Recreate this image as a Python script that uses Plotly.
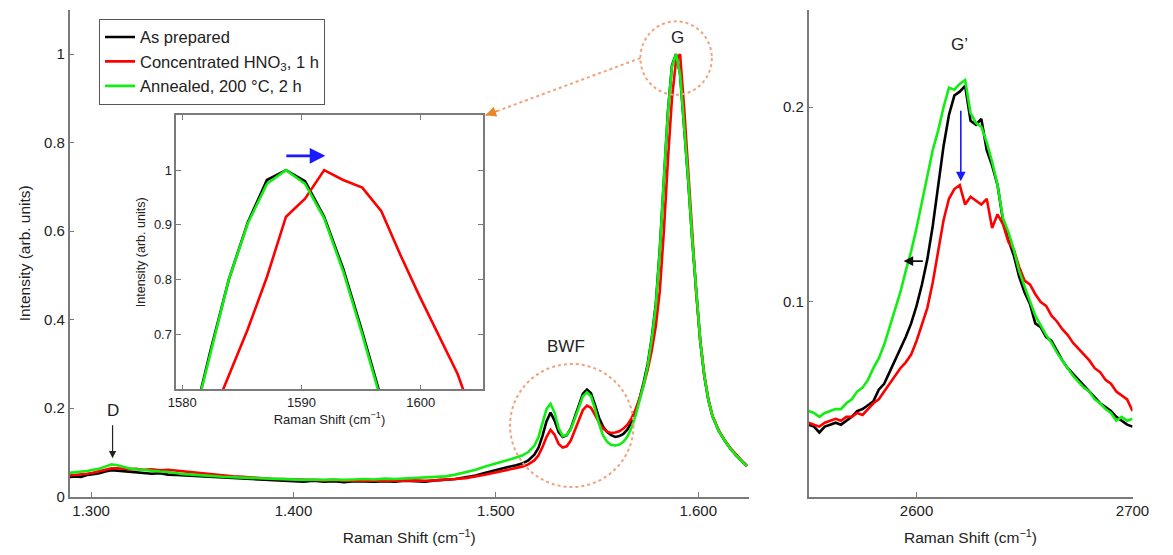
import plotly.graph_objects as go

# ---------------- data ----------------
# D / BWF / G region (cm^-1) and normalised intensities
main_shift = [1289, 1292, 1295, 1298, 1301, 1304, 1307, 1310, 1313, 1316,
              1319, 1322, 1326, 1330, 1334, 1338, 1342, 1346, 1350, 1355,
              1360, 1365, 1370, 1375, 1380, 1385, 1390, 1395, 1400, 1405,
              1410, 1415, 1420, 1425, 1430, 1435, 1440, 1445, 1450, 1455,
              1460, 1465, 1470, 1475, 1480, 1485, 1490, 1494, 1498, 1502,
              1506, 1510, 1513, 1516, 1519, 1521, 1523, 1525, 1527, 1529,
              1531, 1533, 1535, 1537, 1539, 1541, 1543, 1545, 1547, 1549,
              1551, 1553, 1555, 1557, 1559, 1561, 1563, 1565, 1567, 1569,
              1571, 1573, 1575, 1577, 1579, 1581, 1583, 1585, 1587, 1589,
              1591, 1593, 1595, 1597, 1599, 1601, 1603, 1605, 1607, 1610,
              1613, 1616, 1619, 1622, 1624]

main_as_prepared = [0.044, 0.046, 0.045, 0.049, 0.051, 0.053, 0.057, 0.060, 0.059, 0.058,
                    0.056, 0.055, 0.054, 0.052, 0.053, 0.050, 0.049, 0.048, 0.047, 0.046,
                    0.044, 0.043, 0.042, 0.041, 0.040, 0.038, 0.037, 0.036, 0.035, 0.034,
                    0.036, 0.034, 0.035, 0.033, 0.035, 0.034, 0.034, 0.035, 0.034, 0.036,
                    0.035, 0.034, 0.037, 0.038, 0.040, 0.044, 0.048, 0.053, 0.058, 0.063,
                    0.067, 0.071, 0.075, 0.082, 0.095, 0.110, 0.137, 0.170, 0.190, 0.172,
                    0.146, 0.135, 0.139, 0.154, 0.180, 0.209, 0.233, 0.242, 0.234, 0.207,
                    0.178, 0.158, 0.146, 0.139, 0.135, 0.137, 0.142, 0.152, 0.168, 0.192,
                    0.222, 0.258, 0.300, 0.358, 0.435, 0.560, 0.720, 0.870, 0.975, 1.000,
                    0.955, 0.845, 0.715, 0.580, 0.455, 0.350, 0.272, 0.218, 0.182, 0.150,
                    0.127, 0.108, 0.092, 0.078, 0.069]

main_hno3 = [0.048, 0.049, 0.050, 0.052, 0.054, 0.057, 0.061, 0.064, 0.064, 0.063,
             0.062, 0.063, 0.061, 0.062, 0.060, 0.061, 0.059, 0.057, 0.056, 0.053,
             0.050, 0.048, 0.046, 0.045, 0.043, 0.042, 0.040, 0.040, 0.039, 0.038,
             0.038, 0.037, 0.038, 0.036, 0.037, 0.036, 0.037, 0.036, 0.037, 0.036,
             0.037, 0.036, 0.037, 0.038, 0.040, 0.042, 0.045, 0.049, 0.053, 0.057,
             0.061, 0.065, 0.068, 0.073, 0.082, 0.093, 0.112, 0.135, 0.151, 0.140,
             0.119, 0.111, 0.114, 0.127, 0.150, 0.176, 0.196, 0.206, 0.201, 0.185,
             0.167, 0.154, 0.147, 0.144, 0.145, 0.148, 0.154, 0.163, 0.177, 0.197,
             0.222, 0.252, 0.287, 0.330, 0.385, 0.465, 0.600, 0.760, 0.900, 0.985,
             1.000, 0.880, 0.735, 0.590, 0.458, 0.352, 0.274, 0.220, 0.183, 0.151,
             0.128, 0.109, 0.093, 0.079, 0.070]

main_annealed = [0.054, 0.055, 0.057, 0.058, 0.061, 0.063, 0.068, 0.073, 0.071, 0.067,
                 0.064, 0.062, 0.060, 0.058, 0.057, 0.056, 0.053, 0.051, 0.050, 0.048,
                 0.047, 0.045, 0.044, 0.043, 0.042, 0.041, 0.040, 0.040, 0.039, 0.038,
                 0.039, 0.038, 0.039, 0.038, 0.039, 0.040, 0.039, 0.041, 0.040, 0.041,
                 0.042, 0.043, 0.044, 0.046, 0.050, 0.055, 0.061, 0.067, 0.073, 0.078,
                 0.083, 0.088, 0.093, 0.101, 0.115, 0.134, 0.165, 0.198, 0.210, 0.190,
                 0.155, 0.137, 0.140, 0.152, 0.176, 0.204, 0.227, 0.236, 0.227, 0.198,
                 0.164, 0.138, 0.124, 0.117, 0.116, 0.118, 0.124, 0.136, 0.156, 0.183,
                 0.216, 0.252, 0.296, 0.355, 0.430, 0.555, 0.718, 0.868, 0.972, 1.000,
                 0.955, 0.846, 0.718, 0.582, 0.456, 0.351, 0.273, 0.219, 0.182, 0.150,
                 0.127, 0.108, 0.092, 0.078, 0.069]

# G band close-up
inset_shift = [1579.1, 1580.7, 1582.3, 1583.9, 1585.5, 1587.1, 1588.7, 1590.3,
               1591.9, 1593.5, 1595.1, 1596.7, 1598.3, 1599.9, 1601.5, 1603.1, 1604.7, 1606.3]
inset_as_prepared = [0.40, 0.52, 0.665, 0.800, 0.905, 0.982, 1.000, 0.980,
                     0.915, 0.820, 0.705, 0.575, 0.460, 0.370, 0.300, 0.250, 0.210, 0.180]
inset_hno3 = [0.37, 0.45, 0.540, 0.625, 0.710, 0.805, 0.915, 0.948,
              1.000, 0.982, 0.968, 0.925, 0.845, 0.770, 0.700, 0.628, 0.530, 0.440]
inset_annealed = [0.40, 0.52, 0.660, 0.800, 0.903, 0.975, 1.000, 0.975,
                  0.912, 0.815, 0.700, 0.570, 0.455, 0.365, 0.295, 0.245, 0.205, 0.175]

# G' (2D) band
gp_shift = [2550, 2552.5, 2555, 2557.5, 2560, 2562.5, 2565, 2567.5, 2570, 2572.5,
            2575, 2577.5, 2580, 2582.5, 2585, 2587.5, 2590, 2592.5, 2595, 2597.5,
            2600, 2602.5, 2605, 2607.5, 2610, 2612.5, 2615, 2617.5, 2620, 2622.5,
            2625, 2627.5, 2630, 2632.5, 2635, 2637.5, 2640, 2642.5, 2645, 2647.5,
            2650, 2652.5, 2655, 2657.5, 2660, 2662.5, 2665, 2667.5, 2670, 2672.5,
            2675, 2677.5, 2680, 2682.5, 2685, 2687.5, 2690, 2692.5, 2695, 2697.5, 2700]

gp_as_prepared = [0.037, 0.036, 0.033, 0.036, 0.037, 0.038, 0.037, 0.039, 0.041, 0.044,
                  0.045, 0.047, 0.049, 0.055, 0.058, 0.064, 0.070, 0.076, 0.082, 0.089,
                  0.098, 0.109, 0.122, 0.139, 0.160, 0.180, 0.196, 0.206, 0.208, 0.211,
                  0.193, 0.191, 0.194, 0.178, 0.170, 0.160, 0.142, 0.132, 0.124, 0.113,
                  0.105, 0.099, 0.089, 0.087, 0.082, 0.080, 0.075, 0.070, 0.066, 0.063,
                  0.060, 0.057, 0.054, 0.051, 0.048, 0.046, 0.044, 0.041, 0.039, 0.037, 0.036]

gp_hno3 = [0.038, 0.037, 0.036, 0.038, 0.039, 0.040, 0.039, 0.041, 0.041, 0.043,
           0.042, 0.045, 0.048, 0.050, 0.054, 0.058, 0.062, 0.066, 0.069, 0.073,
           0.080, 0.088, 0.097, 0.110, 0.127, 0.142, 0.153, 0.158, 0.160, 0.150,
           0.154, 0.152, 0.150, 0.153, 0.138, 0.145, 0.140, 0.131, 0.127, 0.118,
           0.111, 0.109, 0.104, 0.100, 0.098, 0.093, 0.090, 0.086, 0.083, 0.079,
           0.076, 0.073, 0.070, 0.066, 0.064, 0.060, 0.058, 0.054, 0.052, 0.050, 0.044]

gp_annealed = [0.044, 0.043, 0.041, 0.043, 0.044, 0.045, 0.045, 0.048, 0.050, 0.054,
               0.056, 0.060, 0.066, 0.071, 0.078, 0.087, 0.097, 0.105, 0.116, 0.126,
               0.138, 0.151, 0.164, 0.178, 0.188, 0.200, 0.210, 0.209, 0.212, 0.214,
               0.197, 0.192, 0.190, 0.182, 0.172, 0.160, 0.143, 0.136, 0.127, 0.116,
               0.108, 0.101, 0.093, 0.088, 0.083, 0.079, 0.074, 0.070, 0.066, 0.062,
               0.059, 0.056, 0.054, 0.050, 0.048, 0.045, 0.043, 0.039, 0.041, 0.039, 0.040]

main_tick_vals = [1300, 1400, 1500, 1600]
main_tick_text = ["1.300", "1.400", "1.500", "1.600"]

series_names = ["As prepared", "Concentrated HNO<sub>3</sub>, 1 h", "Annealed, 200 °C, 2 h"]
series_colors = ["#000000", "#ff0000", "#11ee11"]

# ---------------- layout geometry ----------------
W, H = 1173, 555
MAIN_DX = [63 / W, 757 / W]
RIGHT_DX = [818 / W, 1149 / W]
PANEL_DY = [1 - 504 / H, 1 - 10 / H]
INSET_DX = [172 / W, 485 / W]
INSET_DY = [1 - 395 / H, 1 - 117 / H]

MAIN_XR = [1289.4, 1625]
MAIN_YR = [0, 1.1]
RIGHT_XR = [2550, 2700]
RIGHT_YR = [0, 0.25]
INSET_XR = [1579.5, 1605.2]
INSET_YR = [0.6, 1.1]

FONT = "Liberation Sans, Arial, sans-serif"
TXT = "#222222"
AX = "#7a7a7a"
ORANGE = "#f0a27c"


def main_to_paper(x, y):
    px = MAIN_DX[0] + (x - MAIN_XR[0]) / (MAIN_XR[1] - MAIN_XR[0]) * (MAIN_DX[1] - MAIN_DX[0])
    py = PANEL_DY[0] + (y - MAIN_YR[0]) / (MAIN_YR[1] - MAIN_YR[0]) * (PANEL_DY[1] - PANEL_DY[0])
    return px, py


fig = go.Figure()

main_sets = [main_as_prepared, main_hno3, main_annealed]
inset_sets = [inset_as_prepared, inset_hno3, inset_annealed]
gp_sets = [gp_as_prepared, gp_hno3, gp_annealed]

for i in range(3):
    fig.add_trace(go.Scatter(x=main_shift, y=main_sets[i], mode="lines", name=series_names[i],
                             line=dict(color=series_colors[i], width=2.6),
                             xaxis="x", yaxis="y"))
for i in range(3):
    fig.add_trace(go.Scatter(x=gp_shift, y=gp_sets[i], mode="lines", showlegend=False,
                             line=dict(color=series_colors[i], width=2.6),
                             xaxis="x2", yaxis="y2"))
for i in range(3):
    fig.add_trace(go.Scatter(x=inset_shift, y=inset_sets[i], mode="lines", showlegend=False,
                             line=dict(color=series_colors[i], width=2.6),
                             xaxis="x3", yaxis="y3"))

axis_common = dict(showline=True, linecolor=AX, linewidth=1.5, ticks="inside", ticklen=5,
                   tickcolor=AX, tickwidth=1, showgrid=False, zeroline=False,
                   tickfont=dict(family=FONT, size=15, color=TXT))
inset_common = dict(showline=True, linecolor=AX, linewidth=1.5, ticks="inside", ticklen=5,
                    tickcolor=AX, tickwidth=1, showgrid=False, zeroline=False, mirror="ticks",
                    tickfont=dict(family=FONT, size=13, color=TXT))

fig.update_layout(
    width=W, height=H,
    margin=dict(l=0, r=0, t=0, b=0),
    paper_bgcolor="white", plot_bgcolor="white",
    font=dict(family=FONT, color=TXT),
    xaxis=dict(domain=MAIN_DX, range=MAIN_XR, tickvals=main_tick_vals, ticktext=main_tick_text,
               anchor="y",
               title=dict(text="Raman Shift (cm<sup>−1</sup>)", font=dict(size=15.5), standoff=14),
               **axis_common),
    yaxis=dict(domain=PANEL_DY, range=MAIN_YR, tickvals=[0, 0.2, 0.4, 0.6, 0.8, 1],
               anchor="x",
               title=dict(text="Intensity (arb. units)", font=dict(size=15.5), standoff=10),
               **axis_common),
    xaxis2=dict(domain=RIGHT_DX, range=RIGHT_XR, tickvals=[2600, 2700], anchor="y2",
                title=dict(text="Raman Shift (cm<sup>−1</sup>)", font=dict(size=15.5), standoff=14),
                **axis_common),
    yaxis2=dict(domain=PANEL_DY, range=RIGHT_YR, tickvals=[0.1, 0.2], anchor="x2",
                **axis_common),
    xaxis3=dict(domain=INSET_DX, range=INSET_XR, tickvals=[1580, 1590, 1600], anchor="y3",
                title=dict(text="Raman Shift (cm<sup>−1</sup>)", font=dict(size=13), standoff=6),
                **inset_common),
    yaxis3=dict(domain=INSET_DY, range=INSET_YR, tickvals=[0.7, 0.8, 0.9, 1], anchor="x3",
                title=dict(text="Intensity (arb. units)", font=dict(size=12.5), standoff=6),
                **inset_common),
    legend=dict(x=93 / W, y=1 - 19 / H, xanchor="left", yanchor="top",
                bgcolor="white", bordercolor="#555555", borderwidth=1,
                font=dict(family=FONT, size=16.5, color=TXT), tracegroupgap=0),
)

# peak labels
labels = [("G", 1589.8, 1.038, "x", "y"), ("BWF", 1534.6, 0.339, "x", "y"),
          ("D", 1310.6, 0.194, "x", "y"), ("G’", 2620, 0.232, "x2", "y2")]
for txt, lx, ly, xr, yr in labels:
    fig.add_annotation(x=lx, y=ly, xref=xr, yref=yr, text=txt, showarrow=False,
                       font=dict(family=FONT, size=17, color=TXT))

# arrows
arrows = [
    (1310.6, 0.087, 1310.6, 0.165, "x", "y", "#222222", 1.2),
    (1592.0, 1.026, 1588.6, 1.026, "x3", "y3", "#1a1aff", 2.6),
    (2620.5, 0.162, 2620.5, 0.199, "x2", "y2", "#1a1aff", 1.6),
    (2594.0, 0.121, 2603.6, 0.121, "x2", "y2", "#111111", 1.6),
]
for hx, hy, tx, ty, xr, yr, col, w in arrows:
    fig.add_annotation(x=hx, y=hy, ax=tx, ay=ty, xref=xr, yref=yr, axref=xr, ayref=yr,
                       text="", showarrow=True, arrowhead=2, arrowsize=1.2,
                       arrowwidth=w, arrowcolor=col)

# dotted circles round the BWF and G bands
bwf_circle = (1507, 0.022, 1568, 0.300)
g_circle = (1571.4, 0.908, 1606.7, 1.074)
for c in (bwf_circle, g_circle):
    fig.add_shape(type="circle", xref="x", yref="y", x0=c[0], y0=c[1], x1=c[2], y1=c[3],
                  line=dict(color=ORANGE, width=2, dash="dot"))

# dotted link from the G circle to the close-up
sx, sy = main_to_paper(g_circle[0], (g_circle[1] + g_circle[3]) / 2)
ex, ey = INSET_DX[1] + 3 / W, INSET_DY[1]
fig.add_shape(type="line", xref="paper", yref="paper", x0=sx, y0=sy, x1=ex, y1=ey,
              line=dict(color=ORANGE, width=2, dash="dot"))
dxp, dyp = (sx - ex) * W, (sy - ey) * H
norm = (dxp ** 2 + dyp ** 2) ** 0.5
fig.add_annotation(x=ex, y=ey, xref="paper", yref="paper", text="", showarrow=True,
                   ax=14 * dxp / norm, ay=-14 * dyp / norm, arrowhead=2, arrowsize=1.4,
                   arrowwidth=1.5, arrowcolor="#e8862a")

fig.write_html("out.html")
